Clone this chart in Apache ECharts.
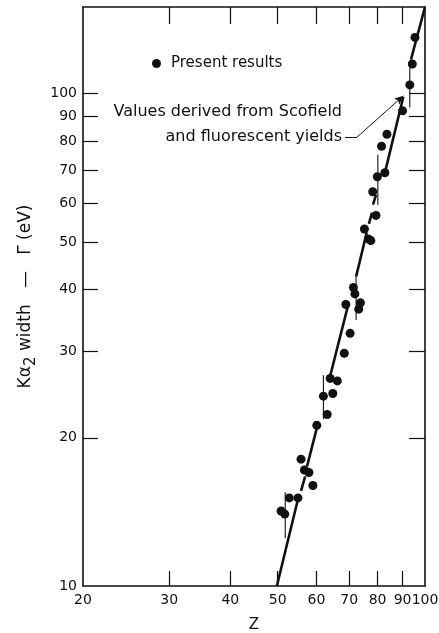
<!DOCTYPE html>
<html><head><meta charset="utf-8">
<script src="https://cdn.jsdelivr.net/npm/echarts@6/dist/echarts.min.js"></script>
<style>html,body{margin:0;padding:0;background:#fff}#c{width:439px;height:633px}</style>
</head><body><div id="c"></div>
<script>
// Axis ticks (Z and width values, log-log plot)
const zTickLabels = [20, 30, 40, 50, 60, 70, 80, 90, 100];
const zTickMarks = [30, 40, 50, 60, 70, 80, 90];
const widthTickLabels = [10, 20, 30, 40, 50, 60, 70, 80, 90, 100];
const widthTickMarks = [20, 30, 40, 50, 60, 70, 80, 90, 100];
const zRange = [20, 100];
const widthRange = [10, 150];

// Present results (Z, K alpha2 width in eV)
const presentZ = [95.4, 94.2, 93.1, 90.0, 83.6, 81.5, 82.8, 79.9, 78.2, 79.4, 75.2, 76.6, 77.5,
  71.4, 71.9, 68.9, 73.8, 73.2, 70.3, 68.4, 64.0, 66.2, 62.0, 64.8, 63.1, 60.1,
  55.8, 56.7, 57.9, 59.0, 52.8, 55.0, 50.8, 51.7];
const presentWidth = [130.1, 114.9, 104.2, 92.3, 82.7, 78.2, 69.1, 67.8, 63.2, 56.6, 53.1, 50.7, 50.3,
  40.4, 39.2, 37.3, 37.6, 36.5, 32.6, 29.7, 26.4, 26.1, 24.3, 24.6, 22.3, 21.2,
  18.1, 17.2, 17.0, 16.0, 15.1, 15.1, 14.2, 14.0];

// Values derived from Scofield and fluorescent yields (segments separated by null)
const scofieldZ = [49.8, 55.0, null, 55.8, 56.9, null, 57.4, 60.3, null, 64.0, 69.5, null,
  72.3, 76.0, null, 76.8, 77.9, null, 78.3, 79.4, null, 83.1, 90.3, null, 93.6, 100];
const scofieldWidth = [10.0, 15.0, null, 15.6, 16.7, null, 17.5, 21.2, null, 26.7, 36.9, null,
  42.5, 52.2, null, 54.4, 57.3, null, 59.5, 62.3, null, 70.1, 98.6, null, 117.3, 150];
// Vertical steps of the derived curve
const stepZ = [51.8, 51.8, null, 62.0, 62.0, null, 72.3, 72.3, null, 80.1, 80.1, null, 93.1, 93.1];
const stepWidth = [12.5, 15.5, null, 21.8, 26.8, null, 34.7, 42.5, null, 59.5, 75.2, null, 93.7, 115.6];

// Leader line of the annotation
const leaderZ = [68.6, 72.6, 90.3];
const leaderWidth = [81.6, 81.6, 99.0];

const INK = '#111';
const FONT = 'DejaVu Sans';
const lg = v => (v == null ? null : Math.log10(v));
const pairs = (xs, ys) => xs.map((x, i) => [lg(x), lg(ys[i])]);
const fmt = v => String(Math.round(Math.pow(10, v)));

const baseAxis = (extra) => Object.assign({
  type: 'value',
  axisLine: { show: true, onZero: false, lineStyle: { color: INK, width: 1.6 } },
  axisTick: { show: true, inside: true, length: 15, lineStyle: { color: INK, width: 1.2 } },
  splitLine: { show: false },
  axisLabel: { show: false }
}, extra);

const chart = echarts.init(document.getElementById('c'), null, { renderer: 'canvas' });
chart.setOption({
  backgroundColor: '#fff',
  animation: false,
  grid: { left: 83, right: 14, top: 7, bottom: 47, containLabel: false, outerBoundsMode: 'none' },
  legend: {
    data: ['Present results'], left: 147, top: 51, icon: 'circle', itemWidth: 9, itemHeight: 9,
    selectedMode: false,
    textStyle: { fontFamily: FONT, fontSize: 15, color: INK, padding: [0, 0, 0, 5] }
  },
  xAxis: [
    baseAxis({
      position: 'bottom', min: lg(zRange[0]), max: lg(zRange[1]),
      name: 'Z', nameLocation: 'middle', nameGap: 32,
      nameTextStyle: { fontFamily: FONT, fontSize: 15, color: INK },
      axisTick: { show: true, inside: true, length: 15, customValues: zTickMarks.map(lg), lineStyle: { color: INK, width: 1.2 } },
      axisLabel: { show: true, customValues: zTickLabels.map(lg), formatter: fmt, margin: 7,
        fontFamily: FONT, fontSize: 14, color: INK, showMinLabel: true, showMaxLabel: true }
    }),
    baseAxis({
      position: 'top', min: lg(zRange[0]), max: lg(zRange[1]),
      axisTick: { show: true, inside: true, length: 17, customValues: zTickMarks.map(lg), lineStyle: { color: INK, width: 1.2 } }
    })
  ],
  yAxis: [
    baseAxis({
      position: 'left', min: lg(widthRange[0]), max: lg(widthRange[1]),
      name: '{a|K\u03b1}{s|2}{a| width   \u2014   \u0393 (eV)}', nameLocation: 'middle', nameGap: 44, nameRotate: 90,
      nameTextStyle: {
        fontFamily: FONT, fontSize: 17, color: INK,
        rich: {
          a: { fontFamily: FONT, fontSize: 17, color: INK, lineHeight: 26 },
          s: { fontFamily: FONT, fontSize: 15, color: INK, lineHeight: 15, verticalAlign: 'bottom' }
        }
      },
      axisTick: { show: true, inside: true, length: 15, customValues: widthTickMarks.map(lg), lineStyle: { color: INK, width: 1.2 } },
      axisLabel: { show: true, customValues: widthTickLabels.map(lg), formatter: fmt, margin: 6,
        fontFamily: FONT, fontSize: 14, color: INK, showMinLabel: true }
    }),
    baseAxis({
      position: 'right', min: lg(widthRange[0]), max: lg(widthRange[1]),
      axisTick: { show: true, inside: true, length: 16, customValues: widthTickMarks.map(lg), lineStyle: { color: INK, width: 1.2 } }
    })
  ],
  series: [
    {
      name: 'Scofield', type: 'line', data: pairs(scofieldZ, scofieldWidth), silent: true,
      symbol: 'none', showSymbol: false, connectNulls: false, z: 2,
      lineStyle: { color: INK, width: 2.6 },
      markLine: {
        silent: true, animation: false, symbol: ['none', 'arrow'], symbolSize: [6, 9],
        label: { show: false },
        lineStyle: { color: INK, width: 1, type: 'solid' },
        data: [
          [{ coord: [lg(leaderZ[0]), lg(leaderWidth[0])], symbol: 'none' }, { coord: [lg(leaderZ[1]), lg(leaderWidth[1])], symbol: 'none' }],
          [{ coord: [lg(leaderZ[1]), lg(leaderWidth[1])], symbol: 'none' }, { coord: [lg(leaderZ[2]), lg(leaderWidth[2])] }]
        ]
      }
    },
    {
      name: 'Steps', type: 'line', data: pairs(stepZ, stepWidth), silent: true,
      symbol: 'none', showSymbol: false, connectNulls: false, z: 2,
      lineStyle: { color: INK, width: 1.1 }
    },
    {
      name: 'Present results', type: 'scatter', data: pairs(presentZ, presentWidth),
      symbol: 'circle', symbolSize: 9, z: 3,
      itemStyle: { color: INK, opacity: 1 }
    }
  ],
  graphic: [
    {
      type: 'text', x: 342, y: 104, silent: true,
      style: {
        text: 'Values derived from Scofield',
        align: 'right', verticalAlign: 'top',
        font: '16px "DejaVu Sans"', fill: INK
      }
    },
    {
      type: 'text', x: 342, y: 129, silent: true,
      style: {
        text: 'and fluorescent yields',
        align: 'right', verticalAlign: 'top',
        font: '16px "DejaVu Sans"', fill: INK
      }
    }
  ]
});
</script>
</body></html>
